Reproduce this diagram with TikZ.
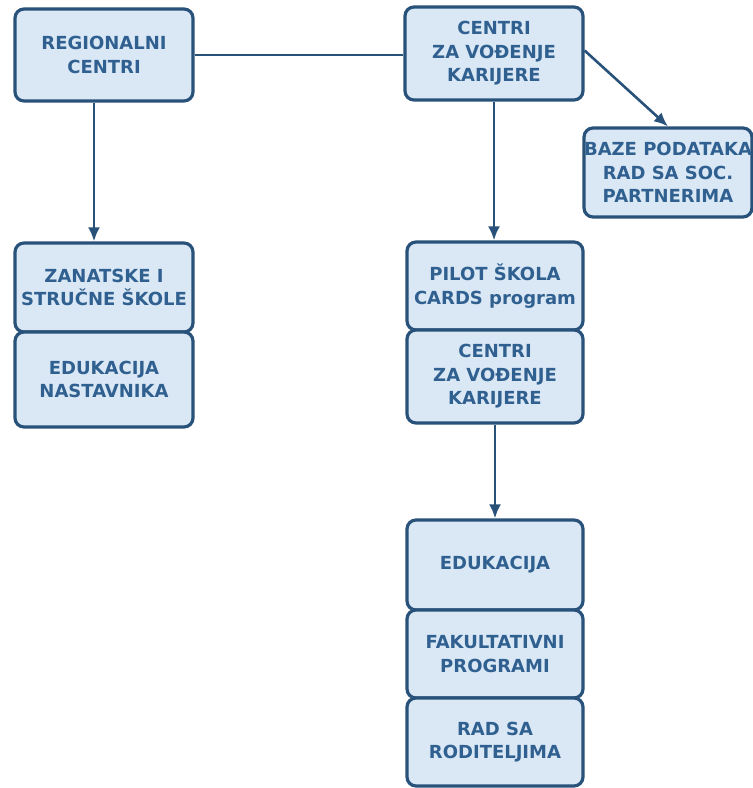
\documentclass[tikz,border=0pt]{standalone}
\usepackage{fontspec}
\setmainfont{DejaVu Sans}
\usetikzlibrary{arrows.meta}
\definecolor{boxfill}{HTML}{DAE8F6}
\definecolor{boxline}{HTML}{29527A}
\definecolor{boxtext}{HTML}{30608F}
\tikzset{
  unit/.style={draw=boxline, fill=boxfill, line width=3.2pt, rounded corners=9pt,
    align=center, text=boxtext, font=\bfseries\fontsize{18}{23.5}\selectfont,
    inner sep=0pt},
  link/.style={draw=boxline, line width=2.6pt},
  arrowlink/.style={link, -{Latex[length=14pt,width=12pt]}}
}
\begin{document}
\begin{tikzpicture}[x=1pt,y=-1pt]
\useasboundingbox (0,0) rectangle (753,788);

% top row
\node[unit, minimum width=178pt, minimum height=92pt] (reg) at (104,55) {REGIONALNI\\CENTRI};
\node[unit, minimum width=178pt, minimum height=93pt] (cvk) at (494,53.5) {CENTRI\\ZA VOĐENJE\\KARIJERE};
\node[unit, minimum width=166pt, minimum height=89pt] (baze) at (668,172.5) {BAZE PODATAKA\\RAD SA SOC.\\PARTNERIMA};

% left column
\node[unit, minimum width=178pt, minimum height=89pt] (zan) at (104,287.5) {ZANATSKE I\\STRUČNE ŠKOLE};
\node[unit, minimum width=178pt, minimum height=95pt] (edn) at (104,379.5) {EDUKACIJA\\NASTAVNIKA};

% middle column
\node[unit, minimum width=176pt, minimum height=88pt] (pilot) at (495,286) {PILOT ŠKOLA\\CARDS program};
\node[unit, minimum width=176pt, minimum height=93pt] (cvk2) at (495,376.5) {CENTRI\\ZA VOĐENJE\\KARIJERE};

\node[unit, minimum width=176pt, minimum height=90pt] (edu) at (495,565) {EDUKACIJA};
\node[unit, minimum width=176pt, minimum height=88pt] (fak) at (495,654) {FAKULTATIVNI\\PROGRAMI};
\node[unit, minimum width=176pt, minimum height=88pt] (rod) at (495,742) {RAD SA\\RODITELJIMA};

% connectors
\draw[link] (reg.east) -- (reg.east -| cvk.west);
\draw[arrowlink] ([xshift=-10pt]reg.south) -- ([xshift=-10pt]reg.south |- zan.north);
\draw[arrowlink] ([yshift=3pt]cvk.east) -- (baze.north);
\draw[arrowlink] (cvk.south) -- (cvk.south |- pilot.north);
\draw[arrowlink] (cvk2.south) -- (edu.north);
\end{tikzpicture}
\end{document}
